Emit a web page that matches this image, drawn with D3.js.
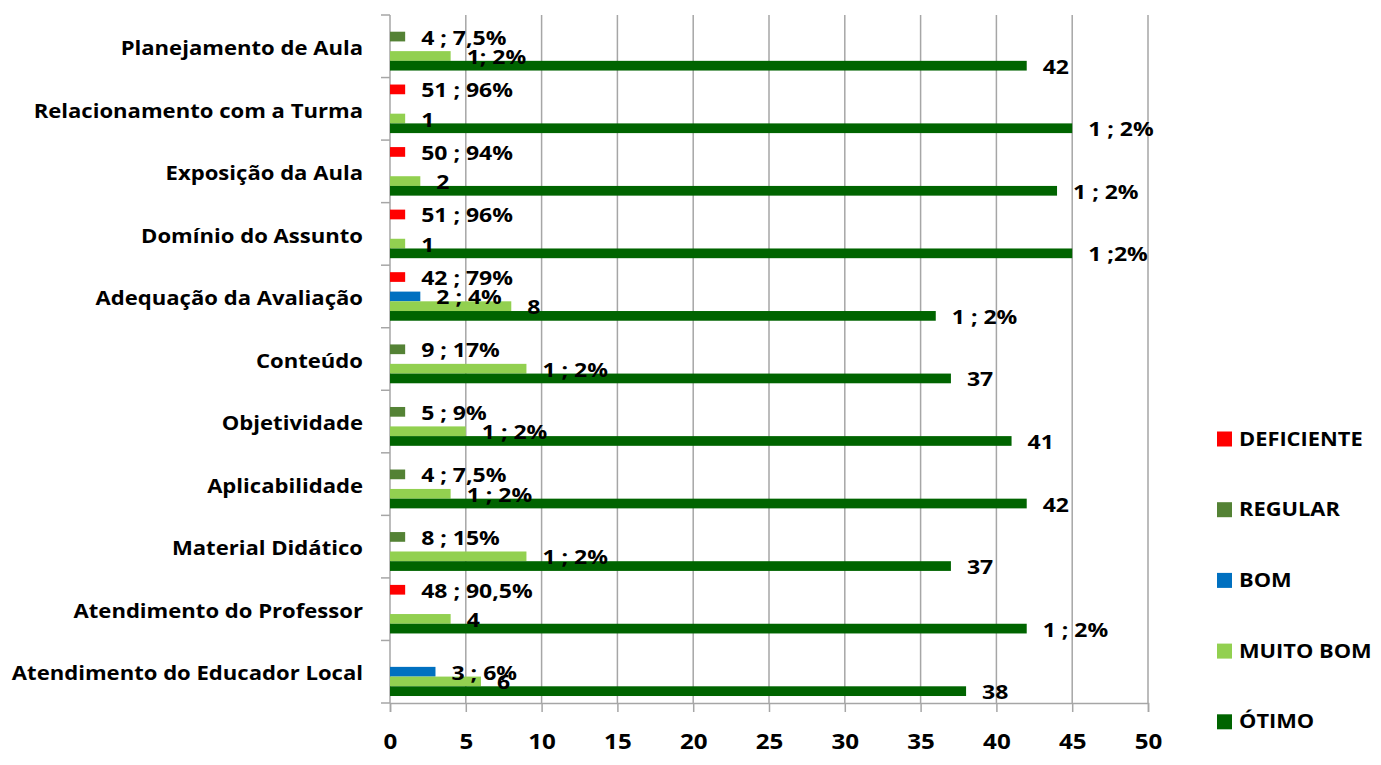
<!DOCTYPE html>
<html>
<head>
<meta charset="utf-8">
<script src="https://cdn.jsdelivr.net/npm/d3@7"></script>
<style>
  body { margin: 0; background: #fff; }
  text { font-family: "Open Sans", sans-serif; font-weight: bold; fill: #000; }
</style>
</head>
<body>
<div id="container"></div>
<script>
// categories top to bottom
const categories = [
  "Planejamento de Aula",
  "Relacionamento com a Turma",
  "Exposição da Aula",
  "Domínio do Assunto",
  "Adequação da Avaliação",
  "Conteúdo",
  "Objetividade",
  "Aplicabilidade",
  "Material Didático",
  "Atendimento do Professor",
  "Atendimento do Educador Local"
];
const seriesNames = ["DEFICIENTE", "REGULAR", "BOM", "MUITO BOM", "ÓTIMO"];
const seriesColors = ["#ff0000", "#548235", "#0070c0", "#92d050", "#006400"];

const deficiente = [0, 1, 1, 1, 1, 0, 0, 0, 0, 1, 0];
const regular    = [1, 0, 0, 0, 0, 1, 1, 1, 1, 0, 0];
const bom        = [0, 0, 0, 0, 2, 0, 0, 0, 0, 0, 3];
const muitoBom   = [4, 1, 2, 1, 8, 9, 5, 4, 9, 4, 6];
const otimo      = [42, 45, 44, 45, 36, 37, 41, 42, 37, 42, 38];

// data labels as typed on the chart
const deficienteLabels = ["", "51 ; 96%", "50 ; 94%", "51 ; 96%", "42 ; 79%", "", "", "", "", "48 ; 90,5%", ""];
const regularLabels    = ["4 ; 7,5%", "", "", "", "", "9 ; 17%", "5 ; 9%", "4 ; 7,5%", "8 ; 15%", "", ""];
const bomLabels        = ["", "", "", "", "2 ; 4%", "", "", "", "", "", "3 ; 6%"];
const muitoBomLabels   = ["1; 2%", "1", "2", "1", "8", "1 ; 2%", "1 ; 2%", "1 ; 2%", "1 ; 2%", "4", "6"];
const otimoLabels      = ["42", "1 ; 2%", "1 ; 2%", "1 ;2%", "1 ; 2%", "37", "41", "42", "37", "1 ; 2%", "38"];

const xTicks = [0, 5, 10, 15, 20, 25, 30, 35, 40, 45, 50];

const seriesValues = [deficiente, regular, bom, muitoBom, otimo];
const seriesLabels = [deficienteLabels, regularLabels, bomLabels, muitoBomLabels, otimoLabels];

const W = 1381, H = 765;
const stretch = 1.15; // the source picture is stretched sideways

let svg = d3.select("#container")
  .append("svg")
  .attr("width", W)
  .attr("height", H);

const x = d3.scaleLinear().domain([0, 50]).range([390, 1148]);
const y = d3.scaleBand().domain(categories).range([15, 703]);
const inner = d3.scaleBand().domain(seriesNames).range([0, y.bandwidth()]).paddingOuter(0.72);

// vertical gridlines
svg.append("g")
  .selectAll("line")
  .data(xTicks.slice(1))
  .enter().append("line")
  .attr("x1", d => x(d)).attr("x2", d => x(d))
  .attr("y1", 15).attr("y2", 703)
  .attr("stroke", "#a6a6a6")
  .attr("stroke-width", 1.5);

// bottom axis
let xAxis = svg.append("g")
  .attr("transform", "translate(0,703)")
  .call(d3.axisBottom(x).tickValues(xTicks).tickSize(9).tickPadding(22));
xAxis.select(".domain").attr("stroke", "#a6a6a6").attr("stroke-width", 1.5);
xAxis.selectAll(".tick line").attr("stroke", "#a6a6a6").attr("stroke-width", 1.5);
xAxis.selectAll(".tick text")
  .attr("font-size", 21)
  .attr("font-family", "Open Sans")
  .attr("font-weight", "bold")
  .attr("transform", `scale(${stretch},1)`);

// left axis line + ticks at band edges
svg.append("line")
  .attr("x1", x(0)).attr("x2", x(0))
  .attr("y1", 15).attr("y2", 703)
  .attr("stroke", "#a6a6a6").attr("stroke-width", 1.5);
const edges = categories.map(c => y(c)).concat([y.range()[1]]);
svg.append("g")
  .selectAll("line")
  .data(edges)
  .enter().append("line")
  .attr("x1", x(0) - 9).attr("x2", x(0))
  .attr("y1", d => d).attr("y2", d => d)
  .attr("stroke", "#a6a6a6").attr("stroke-width", 1.5);

// category labels
svg.append("g")
  .selectAll("text")
  .data(categories)
  .enter().append("text")
  .attr("transform", d => `translate(363,${y(d) + y.bandwidth() / 2 + 2}) scale(${stretch},1)`)
  .attr("text-anchor", "end")
  .attr("dy", "0.35em")
  .attr("font-size", 19.2)
  .text(d => d);

// bars
const rows = [];
seriesNames.forEach((s, si) => {
  categories.forEach((c, ci) => {
    rows.push({ cat: c, series: s, color: seriesColors[si],
                value: seriesValues[si][ci], label: seriesLabels[si][ci] });
  });
});

svg.append("g")
  .selectAll("rect")
  .data(rows.filter(d => d.value > 0))
  .enter().append("rect")
  .attr("x", x(0))
  .attr("y", d => y(d.cat) + inner(d.series))
  .attr("width", d => x(d.value) - x(0))
  .attr("height", inner.bandwidth())
  .attr("fill", d => d.color);

// data labels
svg.append("g")
  .selectAll("text")
  .data(rows.filter(d => d.label !== ""))
  .enter().append("text")
  .attr("transform", d => `translate(${x(d.value) + 16},${y(d.cat) + inner(d.series) + inner.bandwidth() / 2 + 1}) scale(${stretch},1)`)
  .attr("dy", "0.35em")
  .attr("font-size", 20)
  .text(d => d.label);

// legend
let legend = svg.append("g")
  .selectAll("g")
  .data(seriesNames)
  .enter().append("g")
  .attr("transform", (d, i) => `translate(1217,${439 + i * 70.7})`);
legend.append("rect")
  .attr("x", 0).attr("y", -7.5)
  .attr("width", 15).attr("height", 15)
  .attr("fill", (d, i) => seriesColors[i]);
legend.append("text")
  .attr("transform", `translate(22,0) scale(${stretch},1)`)
  .attr("dy", "0.35em")
  .attr("font-size", 19)
  .text(d => d);
</script>
</body>
</html>
